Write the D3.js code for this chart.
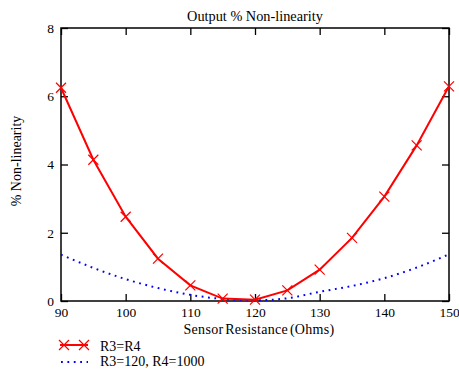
<!DOCTYPE html>
<html><head><meta charset="utf-8">
<script src="https://cdn.jsdelivr.net/npm/d3@7"></script>
<style>body{margin:0;background:#fff}svg{display:block}</style>
</head><body>
<script>
const resistance = [90,95,100,105,110,115,120,125,130,135,140,145,150];
const seriesR3eqR4 = [6.25,4.14,2.47,1.24,0.46,0.07,0.04,0.31,0.92,1.85,3.06,4.56,6.29];
const seriesR3_120_R4_1000 = [1.36,0.97,0.64,0.38,0.18,0.06,0.02,0.08,0.27,0.44,0.67,0.98,1.37];
const xTicks = [90,100,110,120,130,140,150];
const yTicks = [0,2,4,6,8];
const legendLabels = ["R3=R4","R3=120, R4=1000"];

const FONT = "Liberation Serif";
const W=459,H=373;
const m={l:61,r:449,t:28,b:301};
const svg=d3.select("body").append("svg").attr("width",W).attr("height",H).style("font-family",FONT);
const x=d3.scaleLinear().domain([90,150]).range([m.l,m.r]);
const y=d3.scaleLinear().domain([0,8]).range([m.b,m.t]);

const gBottom=svg.append("g").attr("transform",`translate(0,${m.b})`).call(d3.axisBottom(x).tickValues(xTicks).tickSizeInner(-7).tickSizeOuter(0).tickPadding(12));
const gLeft=svg.append("g").attr("transform",`translate(${m.l},0)`).call(d3.axisLeft(y).tickValues(yTicks).tickSizeInner(-7).tickSizeOuter(0).tickPadding(7));
const gTop=svg.append("g").attr("transform",`translate(0,${m.t})`).call(d3.axisTop(x).tickValues(xTicks).tickSizeInner(-7).tickSizeOuter(0).tickFormat(""));
const gRight=svg.append("g").attr("transform",`translate(${m.r},0)`).call(d3.axisRight(y).tickValues(yTicks).tickSizeInner(-7).tickSizeOuter(0).tickFormat(""));
[gBottom,gLeft,gTop,gRight].forEach(g=>{
  g.attr("font-family",null).attr("font-size",null);
  g.select(".domain").remove();
  g.selectAll("line").attr("stroke","#000").attr("stroke-width",1.3);
  g.selectAll("text").style("font-family",FONT).style("font-size","13.5px").attr("fill","#000");
});
gBottom.selectAll("text").attr("dy","0.32em");

svg.append("rect").attr("x",m.l).attr("y",m.t).attr("width",m.r-m.l).attr("height",m.b-m.t).attr("fill","none").attr("stroke","#000").attr("stroke-width",1.5);

const line=d3.line().x((d,i)=>x(resistance[i])).y(d=>y(d));
const lineB=d3.line().curve(d3.curveMonotoneX).x((d,i)=>x(resistance[i])).y(d=>y(d));

svg.append("path").datum(seriesR3_120_R4_1000).attr("d",lineB).attr("fill","none").attr("stroke","#0000ff").attr("stroke-width",2).attr("stroke-dasharray","1.8,4.6");
svg.append("path").datum(seriesR3eqR4).attr("d",line).attr("fill","none").attr("stroke","#ff0000").attr("stroke-width",2);

const xm=5;
function cross(g,cx,cy){
  g.append("path").attr("d",`M${cx-xm},${cy-xm}L${cx+xm},${cy+xm}M${cx-xm},${cy+xm}L${cx+xm},${cy-xm}`).attr("stroke","#ff0000").attr("stroke-width",1.2).attr("fill","none");
}
const mk=svg.append("g");
seriesR3eqR4.forEach((v,i)=>cross(mk,x(resistance[i]),y(v)));

function txt(xp,yp,s,size,anchor){
  return svg.append("text").attr("x",xp).attr("y",yp).attr("text-anchor",anchor||"start")
    .style("font-family",FONT).style("font-size",size+"px").attr("fill","#000").text(s);
}
txt(255,21,"Output % Non-linearity",14.3,"middle");
txt(259,334,"Sensor Resistance (Ohms)",14,"middle").style("word-spacing","-2px").style("letter-spacing","0.3px");
svg.append("text").attr("transform","translate(21,161) rotate(-90)").attr("text-anchor","middle")
  .style("font-family",FONT).style("font-size","14px").text("% Non-linearity");

const lg=svg.append("g");
lg.append("line").attr("x1",60).attr("x2",88).attr("y1",345).attr("y2",345).attr("stroke","#ff0000").attr("stroke-width",2);
cross(lg,64,345);cross(lg,84,345);
txt(100,351,legendLabels[0],14);
lg.append("line").attr("x1",61).attr("x2",88).attr("y1",362).attr("y2",362).attr("stroke","#0000ff").attr("stroke-width",2).attr("stroke-dasharray","1.8,4.6");
txt(100,366,legendLabels[1],14);
</script>
</body></html>
